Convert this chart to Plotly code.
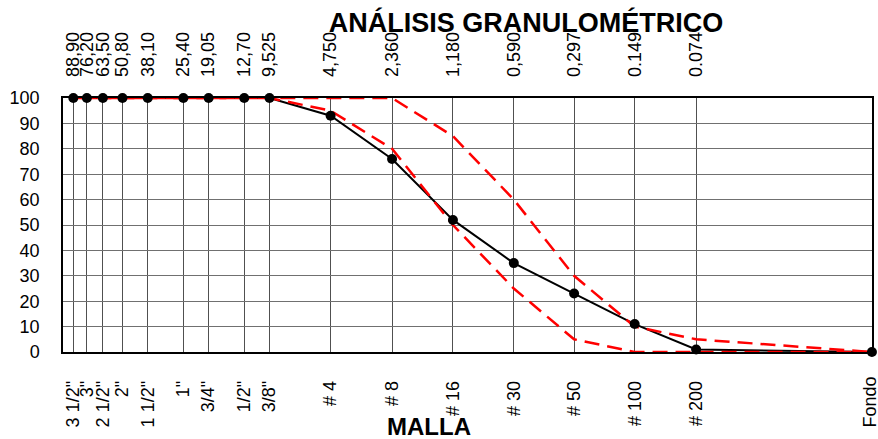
import plotly.graph_objects as go

# Sieve data
sieve_mm = [88.90, 76.20, 63.50, 50.80, 38.10, 25.40, 19.05, 12.70, 9.525,
            4.750, 2.360, 1.180, 0.590, 0.297, 0.149, 0.074, 0.01]
sieve_names = ['3 1/2"', '3"', '2 1/2"', '2"', '1 1/2"', '1"', '3/4"', '1/2"', '3/8"',
               '# 4', '# 8', '# 16', '# 30', '# 50', '# 100', '# 200', 'Fondo']
size_labels = ['88,90', '76,20', '63,50', '50,80', '38,10', '25,40', '19,05', '12,70', '9,525',
               '4,750', '2,360', '1,180', '0,590', '0,297', '0.149', '0.074']

passing = [100, 100, 100, 100, 100, 100, 100, 100, 100, 93, 76, 52, 35, 23, 11, 1, 0]
upper_limit = [100, 100, 100, 100, 100, 100, 100, 100, 100, 100, 100, 85, 60, 30, 10, 5, 0]
lower_limit = [100, 100, 100, 100, 100, 100, 100, 100, 100, 95, 80, 50, 25, 5, 0, 0, 0]

FONT = "Liberation Sans, Arial, sans-serif"
XRANGE = [2, -2.0004]
L, R, T, B = 63, 6, 98, 87
PW, PH = 878 - L - R, 439 - T - B

fig = go.Figure()

# black line (under red limits)
fig.add_trace(go.Scatter(x=sieve_mm, y=passing, mode="lines",
                         line=dict(color="black", width=2), showlegend=False,
                         cliponaxis=False))
fig.add_trace(go.Scatter(x=sieve_mm, y=upper_limit, mode="lines",
                         line=dict(color="#ff0000", width=2.5, dash="15px,8px"),
                         showlegend=False, cliponaxis=False))
fig.add_trace(go.Scatter(x=sieve_mm, y=lower_limit, mode="lines",
                         line=dict(color="#ff0000", width=2.5, dash="0px,8px,15px,0px"),
                         showlegend=False, cliponaxis=False))
# markers on top
fig.add_trace(go.Scatter(x=sieve_mm, y=passing, mode="markers",
                         marker=dict(color="black", size=10), showlegend=False,
                         cliponaxis=False))
# dummy trace for the top axis
fig.add_trace(go.Scatter(x=sieve_mm[:-1], y=passing[:-1], xaxis="x2", mode="markers",
                         marker=dict(opacity=0), showlegend=False, hoverinfo="skip"))

# last bottom label (at the right edge) is drawn as an annotation so it stays inside
bottom_text = sieve_names[:-1] + [""]

fig.update_layout(
    width=878, height=439,
    margin=dict(l=L, r=R, t=T, b=B, autoexpand=False),
    paper_bgcolor="white", plot_bgcolor="white",
    font=dict(family=FONT, color="black"),
    title=dict(text="<b>ANÁLISIS GRANULOMÉTRICO</b>", x=526 / 878, xanchor="center",
               y=1 - 23 / 439, yanchor="middle",
               font=dict(size=27, family=FONT, color="black")),
    xaxis=dict(type="log", range=XRANGE, tickvals=sieve_mm, ticktext=bottom_text,
               tickangle=-90, tickfont=dict(size=18, family=FONT),
               showgrid=True, gridcolor="#505050", gridwidth=1,
               showline=True, linecolor="black", linewidth=1.5, mirror=True,
               ticks="", ticklabelstandoff=20, ticklabeloverflow="allow",
               automargin=False, zeroline=False),
    xaxis2=dict(type="log", range=XRANGE, overlaying="x", side="top",
                tickvals=sieve_mm[:-1], ticktext=size_labels, tickangle=-90,
                tickfont=dict(size=18, family=FONT), showgrid=False,
                ticks="", ticklabelstandoff=20, showline=False, automargin=False,
                zeroline=False),
    yaxis=dict(range=[0, 100], dtick=10, tick0=0, tickfont=dict(size=18, family=FONT),
               showgrid=True, gridcolor="#707070", gridwidth=1,
               showline=True, linecolor="black", linewidth=1.5, mirror=True,
               ticks="", ticklabelstandoff=18, automargin=False, zeroline=False),
    annotations=[
        dict(text="<b>MALLA</b>", xref="paper", yref="paper",
             x=(429 - L) / PW, y=(439 - B - 426) / PH,
             xanchor="center", yanchor="middle",
             showarrow=False, font=dict(size=24, family=FONT, color="black")),
        dict(text=sieve_names[-1], xref="paper", yref="paper",
             x=(869 - L) / PW, y=(439 - B - 375) / PH, textangle=-90,
             xanchor="center", yanchor="top", showarrow=False,
             font=dict(size=18, family=FONT, color="black")),
    ],
)

fig.write_html("out.html")
